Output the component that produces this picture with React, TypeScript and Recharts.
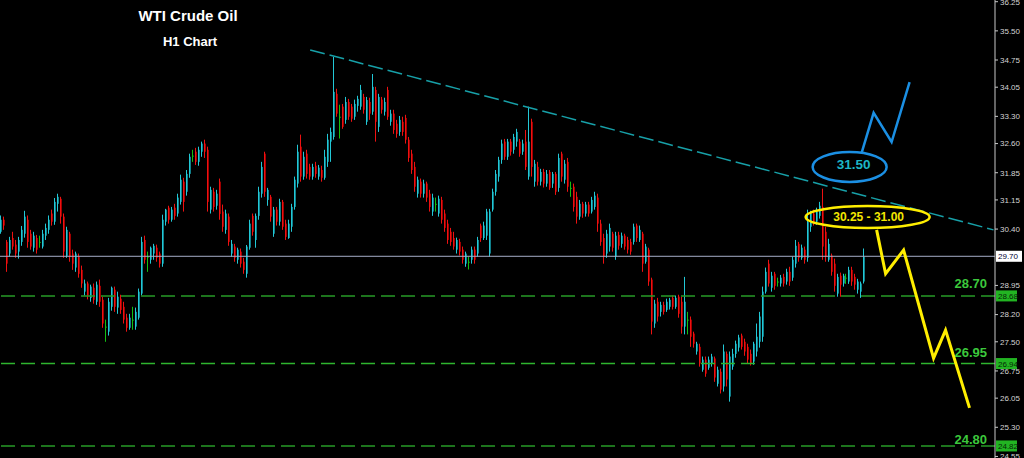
import { Bar, ComposedChart, Line, ReferenceDot, ReferenceLine, XAxis, YAxis } from "recharts"

const SLOTS = 332
const PRICE_RANGE: [number, number] = [24.51, 36.294]

// H1 bars: open, high, low, close
const candles: number[][] = [
  [30.33, 30.75, 30.28, 30.64], [30.64, 30.72, 30.38, 30.49], [30.07, 30.12, 29.3, 29.51], [29.77, 30.2, 29.69, 30.12], [30.17, 30.33, 29.87, 29.95],
  [30.0, 30.12, 29.66, 29.77], [29.82, 30.2, 29.64, 30.12], [30.07, 30.48, 29.97, 30.38], [30.28, 30.87, 30.18, 30.72], [30.64, 30.75, 29.92, 30.07],
  [30.28, 30.38, 29.87, 29.95], [29.92, 30.33, 29.82, 30.23], [30.17, 30.25, 29.77, 29.87], [30.07, 30.23, 29.92, 30.07], [29.95, 30.38, 29.9, 30.28],
  [30.23, 30.54, 30.12, 30.43], [30.38, 30.75, 30.28, 30.64], [30.8, 30.9, 30.49, 30.59], [30.59, 31.2, 30.51, 31.1], [31.05, 31.31, 30.85, 31.23],
  [31.18, 31.23, 30.54, 30.72], [30.72, 30.8, 29.66, 29.82], [29.71, 30.46, 29.66, 30.38], [30.28, 30.33, 29.56, 29.69], [29.77, 29.87, 29.35, 29.51],
  [29.41, 29.82, 29.3, 29.77], [29.69, 29.77, 29.15, 29.25], [29.35, 29.46, 28.89, 29.0], [28.79, 29.1, 28.69, 29.0], [29.0, 29.05, 28.59, 28.69],
  [28.63, 28.97, 28.53, 28.92], [28.89, 29.0, 28.48, 28.58], [28.53, 29.05, 28.45, 28.97], [28.94, 29.1, 28.4, 28.53], [28.58, 28.66, 27.86, 27.97],
  [27.89, 28.07, 27.5, 27.89], [27.76, 28.63, 27.66, 28.53], [28.4, 28.92, 28.3, 28.89], [28.84, 28.92, 28.27, 28.4], [28.38, 28.79, 28.22, 28.66],
  [28.61, 28.71, 28.22, 28.32], [28.4, 28.53, 27.97, 28.07], [28.12, 28.22, 27.76, 27.86], [27.86, 28.22, 27.81, 28.12], [28.07, 28.4, 27.81, 28.07],
  [27.89, 28.38, 27.81, 28.27], [28.12, 28.87, 28.07, 28.79], [28.74, 30.2, 28.69, 30.07], [30.12, 30.23, 29.51, 29.61], [29.69, 29.82, 29.3, 29.69],
  [29.61, 29.95, 29.51, 29.92], [29.77, 30.02, 29.61, 29.97], [29.92, 30.0, 29.56, 29.66], [29.77, 29.82, 29.41, 29.51], [29.51, 30.77, 29.43, 30.64],
  [30.59, 30.92, 30.49, 30.9], [30.95, 31.0, 30.54, 30.64], [30.64, 30.97, 30.59, 30.9], [30.95, 31.05, 30.64, 30.74], [30.8, 31.31, 30.72, 31.21],
  [31.1, 31.8, 31.03, 31.67], [31.62, 31.72, 30.85, 31.1], [31.36, 31.92, 31.26, 31.82], [31.82, 32.34, 31.72, 32.26], [32.29, 32.44, 32.13, 32.29],
  [32.39, 32.49, 32.05, 32.13], [32.13, 32.52, 32.03, 32.44], [32.39, 32.65, 32.26, 32.6], [32.6, 32.7, 32.23, 32.39], [32.44, 32.52, 30.85, 31.1],
  [30.9, 31.49, 30.8, 31.41], [31.36, 31.46, 30.85, 30.97], [31.0, 31.41, 30.9, 31.31], [31.62, 31.7, 30.64, 30.79], [30.85, 31.03, 30.33, 30.46],
  [30.38, 30.9, 30.28, 30.8], [30.72, 30.8, 29.97, 30.07], [29.77, 30.12, 29.69, 30.02], [29.95, 30.02, 29.56, 29.66], [29.61, 29.92, 29.51, 29.87],
  [29.82, 29.9, 29.41, 29.51], [29.56, 29.66, 29.25, 29.35], [29.25, 29.99, 29.15, 29.95], [29.92, 30.64, 29.87, 30.54], [30.74, 30.8, 30.23, 30.33],
  [30.12, 30.8, 29.92, 30.74], [30.74, 31.49, 30.64, 31.36], [31.31, 32.13, 31.21, 32.0], [32.34, 32.39, 31.23, 31.36], [31.15, 31.46, 31.0, 31.41],
  [31.23, 31.28, 30.59, 30.72], [30.28, 30.97, 30.2, 30.9], [30.9, 30.97, 30.49, 30.59], [30.59, 31.18, 30.49, 31.1], [31.1, 31.15, 30.38, 30.46],
  [30.54, 30.64, 30.12, 30.2], [30.17, 30.64, 30.15, 30.54], [30.46, 31.05, 30.33, 30.97], [30.97, 31.75, 30.9, 31.67], [31.57, 32.57, 31.47, 32.39],
  [32.52, 32.83, 31.62, 31.75], [31.75, 32.39, 31.67, 32.26], [32.34, 32.44, 31.7, 31.82], [32.0, 32.08, 31.67, 31.75], [31.75, 32.08, 31.67, 32.0],
  [32.03, 32.13, 31.72, 31.82], [31.75, 32.05, 31.67, 31.98], [31.92, 32.03, 31.62, 31.72], [31.72, 32.44, 31.67, 32.26], [32.13, 32.85, 32.0, 32.7],
  [32.65, 33.01, 32.13, 32.9], [32.77, 34.83, 32.7, 33.93], [33.88, 34.01, 33.29, 33.37], [33.29, 33.6, 32.73, 33.29], [33.55, 33.62, 32.98, 33.03],
  [33.21, 33.8, 33.11, 33.67], [33.67, 33.75, 33.21, 33.29], [33.55, 33.62, 33.16, 33.24], [33.29, 33.73, 33.21, 33.62], [33.57, 33.83, 33.42, 33.75],
  [33.55, 34.11, 33.47, 33.98], [33.8, 33.88, 33.37, 33.47], [33.16, 33.8, 33.08, 33.72], [33.67, 33.78, 33.21, 33.37], [33.42, 34.39, 33.34, 34.06],
  [33.98, 34.06, 32.65, 33.16], [33.03, 33.88, 32.9, 33.8], [33.73, 33.8, 33.37, 33.47], [33.42, 33.78, 33.32, 33.67], [33.98, 34.06, 33.21, 33.29],
  [33.16, 33.47, 33.06, 33.37], [33.37, 33.47, 32.85, 32.95], [33.11, 33.21, 32.75, 32.85], [32.9, 33.31, 32.8, 33.21], [33.16, 33.29, 32.8, 32.9],
  [33.26, 33.34, 32.6, 32.7], [32.7, 32.77, 32.13, 32.23], [32.34, 32.44, 31.82, 31.92], [32.0, 32.13, 31.36, 31.49], [31.31, 31.75, 31.21, 31.67],
  [31.62, 31.7, 31.21, 31.31], [31.31, 31.67, 31.21, 31.57], [31.57, 31.62, 31.1, 31.21], [31.31, 31.41, 30.85, 30.97], [30.85, 31.31, 30.74, 31.21],
  [31.05, 31.21, 30.85, 31.05], [30.8, 31.26, 30.72, 31.18], [31.15, 31.23, 30.54, 30.64], [30.8, 30.9, 30.33, 30.43], [30.54, 30.64, 30.02, 30.12],
  [30.33, 30.43, 29.97, 30.07], [30.17, 30.33, 29.87, 29.95], [29.87, 30.18, 29.77, 30.12], [30.07, 30.15, 29.72, 29.82], [29.87, 29.95, 29.51, 29.61],
  [29.51, 29.82, 29.43, 29.77], [29.56, 29.69, 29.36, 29.56], [29.61, 29.95, 29.51, 29.87], [29.87, 29.95, 29.51, 29.61], [29.77, 30.2, 29.69, 30.12],
  [30.49, 30.54, 30.07, 30.17], [30.17, 30.59, 30.12, 30.49], [30.23, 30.92, 30.12, 30.85], [29.77, 30.92, 29.69, 30.85], [30.9, 31.44, 30.85, 31.36],
  [31.36, 31.92, 31.26, 31.82], [31.75, 32.26, 31.62, 32.18], [32.18, 32.7, 32.08, 32.6], [32.65, 32.72, 32.18, 32.26], [32.26, 32.72, 32.18, 32.65],
  [32.65, 32.72, 32.29, 32.39], [32.44, 32.85, 32.34, 32.77], [32.65, 32.98, 32.52, 32.9], [32.65, 32.72, 32.26, 32.34], [32.39, 32.7, 32.31, 32.6],
  [32.65, 32.95, 31.92, 32.0], [31.75, 33.55, 31.67, 32.65], [33.16, 33.24, 31.75, 32.0], [31.62, 32.18, 31.49, 32.08], [32.0, 32.13, 31.52, 31.62],
  [31.62, 31.95, 31.52, 31.87], [31.87, 31.95, 31.47, 31.57], [31.57, 31.92, 31.49, 31.82], [31.87, 31.92, 31.41, 31.46], [31.57, 31.87, 31.46, 31.82],
  [31.82, 31.87, 31.28, 31.36], [31.46, 32.34, 31.36, 32.23], [32.34, 32.39, 31.62, 31.75], [31.67, 32.18, 31.57, 32.08], [32.13, 32.23, 31.36, 31.49],
  [31.46, 31.62, 31.23, 31.46], [31.49, 31.57, 30.85, 30.97], [31.23, 31.36, 30.54, 30.72], [30.72, 31.15, 30.64, 31.05], [31.05, 31.1, 30.69, 30.8],
  [30.8, 31.1, 30.72, 31.03], [31.03, 31.1, 30.72, 30.8], [30.85, 31.23, 30.8, 31.15], [30.97, 31.36, 30.9, 31.26], [31.21, 31.31, 30.33, 30.54],
  [30.54, 30.64, 29.97, 30.07], [30.17, 30.28, 29.51, 29.69], [29.77, 30.38, 29.66, 30.28], [29.95, 30.54, 29.82, 30.43], [30.28, 30.33, 29.82, 29.92],
  [29.69, 30.33, 29.61, 30.23], [30.25, 30.33, 29.87, 29.97], [30.02, 30.31, 29.92, 30.23], [30.23, 30.28, 29.87, 29.95], [30.12, 30.2, 29.77, 29.87],
  [30.07, 30.15, 29.74, 29.82], [30.07, 30.54, 30.0, 30.46], [30.49, 30.54, 30.07, 30.17], [30.12, 30.49, 30.07, 30.38], [30.28, 30.33, 29.3, 29.51],
  [29.56, 30.02, 29.51, 29.95], [29.87, 29.92, 28.94, 29.05], [29.1, 29.15, 27.69, 28.02], [27.97, 28.58, 27.86, 28.48], [28.53, 28.63, 28.02, 28.15],
  [28.27, 28.53, 28.15, 28.45], [28.45, 28.53, 28.2, 28.27], [28.32, 28.61, 28.27, 28.53], [28.4, 28.63, 28.33, 28.58], [28.63, 28.69, 28.33, 28.4],
  [28.4, 28.69, 28.35, 28.63], [28.66, 28.71, 28.12, 28.22], [28.53, 28.66, 27.71, 27.89], [27.89, 29.17, 27.69, 28.53], [28.07, 28.27, 27.69, 28.07],
  [28.07, 28.15, 27.37, 27.63], [27.71, 27.76, 27.35, 27.45], [27.25, 27.5, 27.17, 27.45], [27.37, 27.45, 26.86, 26.94], [26.78, 27.12, 26.73, 27.04],
  [27.04, 27.12, 26.6, 26.68], [26.83, 27.12, 26.78, 27.04], [26.94, 27.19, 26.86, 27.12], [27.07, 27.12, 26.47, 26.58], [26.42, 26.86, 26.35, 26.78],
  [26.73, 26.81, 26.17, 26.27], [26.35, 27.43, 26.22, 27.25], [27.19, 27.25, 26.35, 26.53], [26.09, 27.25, 25.96, 27.12], [26.86, 27.32, 26.78, 27.19],
  [27.19, 27.53, 27.09, 27.45], [27.35, 27.68, 27.25, 27.61], [27.66, 27.71, 27.3, 27.37], [27.5, 27.58, 27.14, 27.25], [27.37, 27.45, 26.94, 27.04],
  [27.19, 27.3, 26.89, 26.94], [26.99, 27.5, 26.91, 27.45], [27.25, 27.97, 27.12, 27.63], [27.5, 28.27, 27.35, 28.15], [27.63, 28.92, 27.5, 28.79],
  [28.79, 29.41, 28.74, 29.3], [29.51, 29.61, 28.92, 29.0], [28.89, 29.3, 28.79, 29.2], [29.25, 29.3, 28.84, 28.94], [29.05, 29.15, 28.92, 29.05],
  [29.0, 29.22, 28.92, 29.15], [29.17, 29.25, 28.92, 29.0], [29.05, 29.38, 28.97, 29.3], [29.3, 29.43, 28.94, 29.05], [29.15, 29.69, 29.07, 29.61],
  [29.51, 30.12, 29.41, 29.97], [30.02, 30.07, 29.56, 29.66], [29.66, 30.0, 29.61, 29.92], [29.87, 29.95, 29.51, 29.61], [29.66, 30.9, 29.56, 30.59],
  [30.46, 30.87, 30.33, 30.8], [30.8, 30.9, 30.49, 30.59], [30.59, 30.95, 30.51, 30.85], [30.74, 31.1, 30.67, 31.0], [30.97, 31.44, 29.61, 29.95],
  [30.33, 30.46, 29.56, 29.69], [29.61, 30.15, 29.56, 30.02], [29.72, 29.77, 29.2, 29.3], [29.51, 29.64, 28.79, 28.94], [28.74, 29.25, 28.66, 29.17],
  [29.2, 29.28, 28.66, 28.97], [29.0, 29.25, 28.92, 29.2], [29.15, 29.25, 28.99, 29.15], [29.05, 29.43, 28.99, 29.35], [29.35, 29.43, 28.94, 29.05],
  [29.17, 29.25, 28.84, 28.97], [28.84, 29.12, 28.74, 29.05], [28.79, 29.05, 28.63, 29.0], [29.05, 29.9, 29.0, 29.69],
]

const priceTicks = [36.25, 35.5, 34.75, 34.05, 33.3, 32.6, 31.85, 31.15, 30.4, 28.95, 28.2, 27.5, 26.75, 26.05, 25.3, 24.55]

const lastPrice = 29.7
const supportLevels = [28.68, 26.94, 24.82]
const supportTexts = ["28.70", "26.95", "24.80"]
const textLift = [8, 7, 2]

// falling resistance line (slot, price)
const trendStart = { x: 103, y: 35.01 }
const trendEnd = { x: 331, y: 30.38 }

// projected paths (slot, price)
const bearPath = [[292, 30.38], [295, 29.25], [301, 29.86], [311, 27.08], [315, 27.8], [323, 25.8]]
const bullPath = [[287, 32.36], [291, 33.39], [297, 32.64], [303, 34.18]]

const bullTarget = { x: 283, y: 32.0, text: "31.50" }
const resistZone = { x: 289, y: 30.71, text: "30.25 - 31.00" }

const FONT = "'Liberation Sans', Arial, sans-serif"

const rows = Array.from({ length: SLOTS }, (_, i) => {
  const k = candles[i]
  const row: any = { i }
  if (k) {
    row.o = k[0]
    row.h = k[1]
    row.l = k[2]
    row.c = k[3]
    row.range = [k[2], k[1]]
  }
  const b = bearPath.find((p) => p[0] === i)
  if (b) row.bear = b[1]
  const u = bullPath.find((p) => p[0] === i)
  if (u) row.bull = u[1]
  return row
})

const Candle = (props: any) => {
  const { x, y, width, height, payload } = props
  if (!payload || payload.o == null || !isFinite(y) || !isFinite(height)) return <g />
  const { o, h, l, c } = payload
  const top = Math.min(y, y + height)
  const span = Math.abs(height)
  const k = h > l ? span / (h - l) : 0
  const py = (p: number) => top + (h - p) * k
  const bx = Math.round(x + width / 2 - 1)
  const up = c > o
  const down = c < o
  const wick = up ? "#22c8d6" : down ? "#ee1111" : "#12c012"
  const body = up ? "#11808c" : down ? "#a00000" : "#0a9a0a"
  const bt = py(Math.max(o, c))
  const bb = py(Math.min(o, c))
  return (
    <g>
      <rect x={bx} y={bt} width={2} height={Math.max(bb - bt, 1)} fill={body} />
      <line x1={bx + 0.5} x2={bx + 0.5} y1={top} y2={top + span} stroke={wick} strokeWidth={1} />
    </g>
  )
}

const LevelLabel = ({ viewBox, text, value, lift, boxFill, boxText, boxW }: any) => {
  const right = viewBox.x + viewBox.width
  const y = viewBox.y
  return (
    <g>
      {text && (
        <text x={right - 8} y={y - lift} textAnchor="end" fill="#3cc83c" fontSize={13} fontWeight="bold" fontFamily={FONT}>
          {text}
        </text>
      )}
      <rect x={right + 1} y={y - 5.5} width={boxW} height={11} fill={boxFill} />
      <text x={right + 3} y={y + 3} fill={boxText} fontSize={8} fontFamily={FONT}>
        {value}
      </text>
    </g>
  )
}

const Badge = ({ cx, cy, rx, ry, stroke, color, size, text, dx, dy }: any) => (
  <g>
    <ellipse cx={cx} cy={cy} rx={rx} ry={ry} fill="none" stroke={stroke} strokeWidth={2.5} />
    <text x={cx + dx} y={cy + dy} textAnchor="middle" fill={color} fontSize={size} fontWeight="bold" fontFamily={FONT}>
      {text}
    </text>
  </g>
)

const App = () => {
  return (
    <div style={{ position: "relative", width: 1024, height: 458, background: "#000", overflow: "hidden" }}>
      <style>{"body{margin:0;background:#000}"}</style>
      <ComposedChart
        width={1024}
        height={458}
        data={rows}
        margin={{ top: 0, right: 0, bottom: 0, left: 0 }}
        barCategoryGap={0}
        barGap={0}
      >
        <XAxis dataKey="i" hide />
        <YAxis
          orientation="right"
          width={29}
          domain={PRICE_RANGE}
          allowDataOverflow
          ticks={priceTicks}
          interval={0}
          tickFormatter={(v: number) => v.toFixed(2)}
          tick={{ fill: "#d4d4d4", fontSize: 8, fontFamily: FONT }}
          tickSize={3}
          tickMargin={2}
          axisLine={{ stroke: "#c8c8c8" }}
          tickLine={{ stroke: "#c8c8c8" }}
        />
        <ReferenceLine
          y={lastPrice}
          stroke="#a6aec8"
          strokeWidth={1}
          label={(p: any) => (
            <LevelLabel viewBox={p.viewBox} value={lastPrice.toFixed(2)} boxFill="#ffffff" boxText="#000033" boxW={26} />
          )}
        />
        {supportLevels.map((lv, idx) => (
          <ReferenceLine
            key={lv}
            y={lv}
            stroke={idx === 1 ? "#2fb52f" : "#279a27"}
            strokeWidth={1.5}
            strokeDasharray="14 6"
            label={(p: any) => (
              <LevelLabel
                viewBox={p.viewBox}
                text={supportTexts[idx]}
                value={lv.toFixed(2)}
                lift={textLift[idx]}
                boxFill="#22b422"
                boxText="#062806"
                boxW={21}
              />
            )}
          />
        ))}
        <ReferenceLine segment={[trendStart, trendEnd]} stroke="#17a0a8" strokeWidth={1.5} strokeDasharray="15 5" />
        <Bar dataKey="range" barSize={3} isAnimationActive={false} shape={(p: any) => <Candle {...p} />} />
        <Line
          dataKey="bear"
          type="linear"
          stroke="#ffee00"
          strokeWidth={3}
          dot={false}
          activeDot={false}
          connectNulls
          isAnimationActive={false}
        />
        <Line
          dataKey="bull"
          type="linear"
          stroke="#1b8fe3"
          strokeWidth={2.5}
          dot={false}
          activeDot={false}
          connectNulls
          isAnimationActive={false}
        />
        <ReferenceDot
          x={bullTarget.x}
          y={bullTarget.y}
          shape={(p: any) => (
            <Badge cx={p.cx} cy={p.cy} rx={37} ry={15} stroke="#1b8fe3" color="#1cb6c6" size={13.5} text={bullTarget.text} dx={4} dy={2} />
          )}
        />
        <ReferenceDot
          x={resistZone.x}
          y={resistZone.y}
          shape={(p: any) => (
            <Badge cx={p.cx} cy={p.cy} rx={62} ry={11} stroke="#ffee00" color="#f2e600" size={12} text={resistZone.text} dx={1} dy={4} />
          )}
        />
      </ComposedChart>
      <svg width={320} height={60} style={{ position: "absolute", left: 0, top: 0, pointerEvents: "none" }}>
        <text x={188} y={21} textAnchor="middle" fill="#ffffff" fontSize={15} fontWeight="bold" fontFamily={FONT}>
          WTI Crude Oil
        </text>
        <text x={190} y={46} textAnchor="middle" fill="#ffffff" fontSize={13} fontWeight="bold" fontFamily={FONT}>
          H1 Chart
        </text>
      </svg>
    </div>
  )
}

export default App
